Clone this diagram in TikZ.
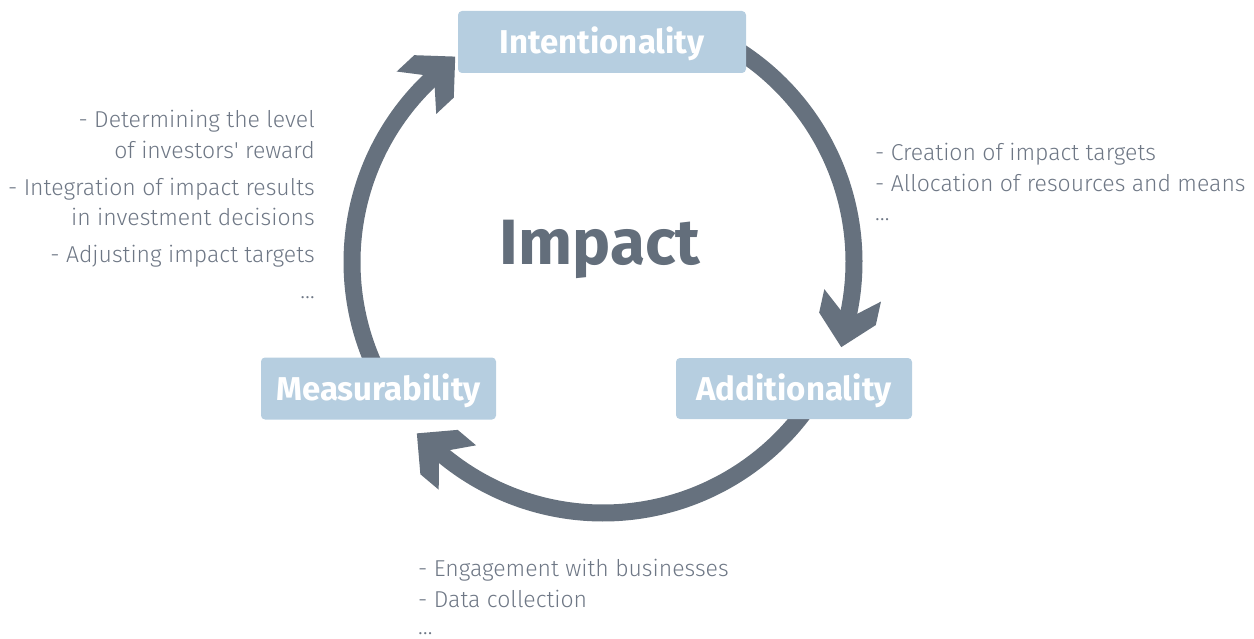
\documentclass[tikz,border=0pt]{standalone}
\usepackage{fontspec}
\setmainfont{Fira Sans}[UprightFont={* Light},BoldFont={* Bold}]
\usetikzlibrary{calc}
\definecolor{arrowgray}{HTML}{66717E}
\definecolor{boxblue}{HTML}{B6CEE0}
\definecolor{notegray}{HTML}{6E7785}
\definecolor{titlegray}{HTML}{636E7B}
\tikzset{
  x=1pt, y=1pt,
  stage/.style={fill=boxblue, rounded corners=4pt, text=white,
    font=\bfseries\fontsize{33}{38}\selectfont, inner sep=0pt},
  note/.style={text=notegray, font=\fontsize{23}{28}\selectfont, inner sep=0pt},
  shaft/.style={draw=arrowgray, line width=17pt},
  headtip/.pic={\fill[arrowgray] (0,0) -- (-29,29) -- (-53,29) -- (-36,8.5)
     -- (-36,-8.5) -- (-53,-29) -- (-29,-29) -- cycle;}
}
\begin{document}
\begin{tikzpicture}
\useasboundingbox (0,0) rectangle (1254,-639);
\def\R{251}
\coordinate (c) at (603,-262);

% cycle arrows, clockwise between the stages
\foreach \s/\e in {60/-12.4, -33/-130.1, 213/133} {
  \draw[shaft] ([shift={(\s:\R)}]c) arc[start angle=\s, end angle=\e, radius=\R];
  \pic[rotate=\e-90] at ([shift={(\e:\R)},shift={(\e-90:32)}]c) {headtip};
}

% stages
\node[stage, minimum width=288pt, minimum height=62pt] (int) at (602,-42) {};
\node[stage, minimum width=236pt, minimum height=61pt] (add) at (794,-388.5) {};
\node[stage, minimum width=235pt, minimum height=62pt] (mea) at (378.5,-388.5) {};
\node[stage, fill=none] (intlbl) at ([yshift=-2pt]int.center) {Intentionality};
\node[stage, fill=none] (addlbl) at ([yshift=-2pt]add.center) {Additionality};
\node[stage, fill=none] (mealbl) at ([yshift=-2pt]mea.center) {Measurability};

% centre title
\node[text=titlegray, font=\bfseries\fontsize{64}{70}\selectfont, inner sep=0pt] (imp) at (600,-249) {Impact};

% notes beside each stage
\node[note, anchor=base west] (r1) at (875,-161) {- Creation of impact targets};
\node[note, anchor=base west] (r2) at (875,-192) {- Allocation of resources and means};
\node[note, anchor=base west] (r3) at (875,-221) {\dots};

\node[note, anchor=base west] (b1) at (418,-576) {- Engagement with businesses};
\node[note, anchor=base west] (b2) at (418,-607) {- Data collection};
\node[note, anchor=base west] (b3) at (418,-634) {\dots};

\node[note, anchor=base east] (l1) at (315,-128) {- Determining the level};
\node[note, anchor=base east] (l2) at (315,-159) {of investors\textquotesingle{} reward};
\node[note, anchor=base east] (l3) at (315,-196) {- Integration of impact results};
\node[note, anchor=base east] (l4) at (315,-226) {in investment decisions};
\node[note, anchor=base east] (l5) at (315,-263) {- Adjusting impact targets};
\node[note, anchor=base east] (l6) at (315,-299) {\dots};
\end{tikzpicture}
\end{document}
